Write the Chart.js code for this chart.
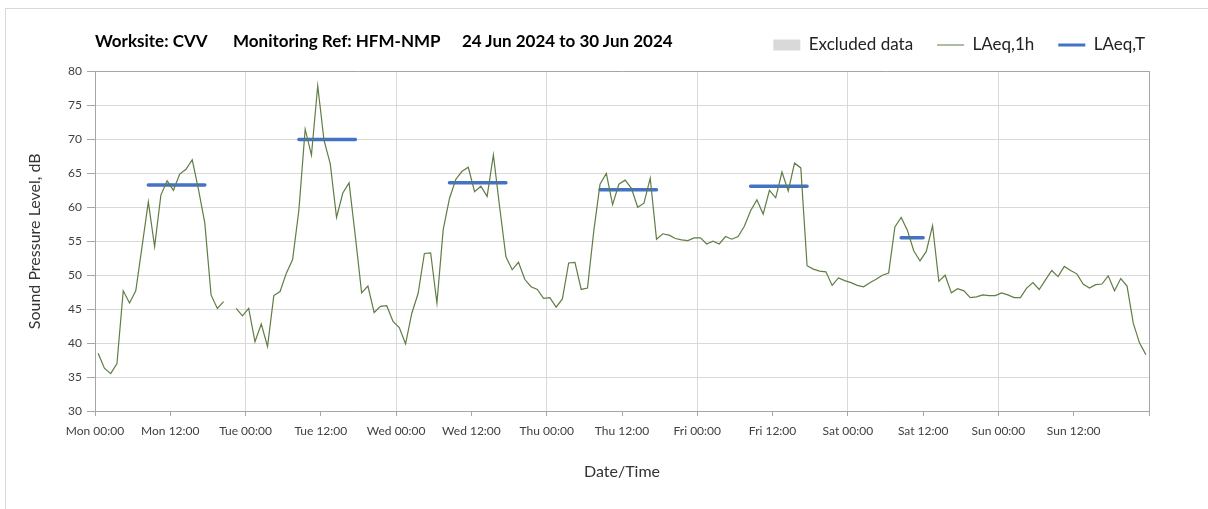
<!DOCTYPE html>
<html>
<head>
<meta charset="utf-8">
<script src="https://cdn.jsdelivr.net/npm/chart.js@4.4.1/dist/chart.umd.min.js"></script>
<style>
  html, body { margin: 0; padding: 0; background: #fff; overflow: hidden; }
  #wrap { position: relative; width: 1208px; height: 509px; }
  #frame { position: absolute; left: 5px; top: 8px; width: 1300px; height: 600px; border: 1px solid #d9d9d9; }
  canvas { position: absolute; left: 0; top: 0; }
  .ttl { position: absolute; top: 32px; font: bold 17px Lato, sans-serif; line-height: 17px; color: #000; white-space: nowrap; }
</style>
</head>
<body>
<div id="wrap">
  <div id="frame"></div>
  <canvas id="myChart" width="1208" height="509"></canvas>
  <div class="ttl" style="left:95px">Worksite: CVV</div>
  <div class="ttl" style="left:233px">Monitoring Ref: HFM-NMP</div>
  <div class="ttl" style="left:462px">24 Jun 2024 to 30 Jun 2024</div>
</div>
<script>
// tick labels
var dayNames = ["Mon", "Tue", "Wed", "Thu", "Fri", "Sat", "Sun"];

// LAeq,1h - one value per hour, Mon 00:00 .. Sun 23:00 (null = no data)
var laeq1h = [
  // Mon
  38.5, 36.3, 35.5, 37.0, 47.7, 45.9, 47.7, 54.2, 60.8, 54.2, 61.8, 63.9,
  62.5, 64.9, 65.6, 67.0, 62.6, 57.7, 47.1, 45.1, 46.1, null, 45.1, 44.0,
  // Tue
  45.1, 40.2, 42.8, 39.5, 47.0, 47.6, 50.3, 52.3, 59.6, 71.5, 67.7, 77.9,
  69.9, 66.4, 58.5, 62.1, 63.6, 55.7, 47.4, 48.4, 44.5, 45.4, 45.5, 43.2,
  // Wed
  42.3, 39.9, 44.4, 47.3, 53.2, 53.3, 45.9, 56.7, 61.3, 64.1, 65.3, 65.9,
  62.3, 63.1, 61.6, 67.7, 60.0, 52.7, 50.8, 51.9, 49.4, 48.3, 47.9, 46.6,
  // Thu
  46.7, 45.3, 46.5, 51.8, 51.9, 47.9, 48.1, 56.5, 63.4, 65.0, 60.4, 63.4,
  64.0, 62.8, 60.0, 60.6, 64.3, 55.3, 56.1, 55.9, 55.4, 55.2, 55.1, 55.5,
  // Fri
  55.5, 54.6, 55.0, 54.6, 55.7, 55.3, 55.7, 57.2, 59.5, 61.1, 59.0, 62.5,
  61.4, 65.2, 62.4, 66.5, 65.8, 51.4, 50.9, 50.6, 50.5, 48.5, 49.6, 49.2,
  // Sat
  48.9, 48.5, 48.3, 48.9, 49.4, 50.0, 50.3, 57.1, 58.5, 56.6, 53.6, 52.1,
  53.5, 57.3, 49.1, 50.0, 47.4, 48.0, 47.7, 46.7, 46.8, 47.1, 47.0, 47.0,
  // Sun
  47.4, 47.1, 46.7, 46.7, 48.1, 48.9, 47.9, 49.3, 50.7, 49.8, 51.3, 50.7,
  50.2, 48.7, 48.1, 48.6, 48.7, 49.9, 47.7, 49.5, 48.4, 42.9, 40.0, 38.3
];

// LAeq,T - assessment periods (hours from Mon 00:00) and their levels
var periodStart = [8.5, 32.5, 56.5, 80.5, 104.5, 128.5];
var periodEnd   = [17.5, 41.5, 65.5, 89.5, 113.5, 132];
var laeqT       = [63.3, 70.0, 63.6, 62.6, 63.1, 55.5];

var hourlyPoints = laeq1h.map(function (v, i) { return { x: i + 0.5, y: v }; });
var periodPoints = [];
laeqT.forEach(function (v, i) {
  periodPoints.push({ x: periodStart[i], y: v }, { x: periodEnd[i], y: v }, { x: periodEnd[i], y: null });
});

var font = "Lato, 'Open Sans', sans-serif";
var axisGrey = '#a6a6a6';

function draw() {
  var ctx = document.getElementById('myChart').getContext('2d');
  var chart = new Chart(ctx, {
    type: 'line',
    data: {
      datasets: [{
        label: 'Excluded data',
        data: [],
        backgroundColor: '#d9d9d9',
        borderColor: '#d9d9d9',
        pointStyle: 'rect',
        pointBorderWidth: 0
      }, {
        label: 'LAeq,1h',
        data: hourlyPoints,
        borderColor: '#5f7d45',
        borderWidth: 1.2,
        pointRadius: 0,
        pointStyle: 'line',
        pointBorderColor: '#5f7d45',
        pointBorderWidth: 1,
        spanGaps: false
      }, {
        label: 'LAeq,T',
        data: periodPoints,
        borderColor: '#4472c4',
        borderWidth: 3.5,
        borderCapStyle: 'round',
        pointRadius: 0,
        pointStyle: 'line',
        pointBorderColor: '#4472c4',
        pointBorderWidth: 3,
        spanGaps: false
      }]
    },
    options: {
      responsive: false,
      devicePixelRatio: 1,
      animation: false,
      layout: { padding: { top: 12.5, right: 39, left: 0, bottom: 0 } },
      plugins: {
        tooltip: { enabled: false },
        legend: {
          position: 'top',
          align: 'end',
          labels: {
            usePointStyle: true,
            pointStyleWidth: 27,
            boxHeight: 11,
            padding: 24,
            color: '#222',
            font: { family: font, size: 17 }
          }
        }
      },
      scales: {
        x: {
          type: 'linear',
          position: 'bottom',
          min: 0,
          max: 168,
          afterFit: function (s) { s.height = 98; },
          ticks: {
            stepSize: 12,
            maxTicksLimit: 20,
            autoSkip: false,
            maxRotation: 0,
            padding: 8,
            color: '#404040',
            font: { family: font, size: 12 },
            callback: function (v) {
              if (v >= 168) return '';
              return dayNames[Math.floor(v / 24)] + (v % 24 ? ' 12:00' : ' 00:00');
            }
          },
          grid: {
            color: function (c) { return c.tick && c.tick.value % 24 === 0 ? '#d9d9d9' : 'rgba(0,0,0,0)'; },
            tickColor: axisGrey,
            tickLength: 5
          },
          border: { color: axisGrey },
          title: {
            display: true,
            text: 'Date/Time',
            color: '#333',
            font: { family: font, size: 16 },
            padding: { top: 4, bottom: 28 }
          }
        },
        xTop: {
          type: 'linear',
          position: 'top',
          min: 0,
          max: 168,
          afterFit: function (s) { s.height = 8; },
          ticks: { display: false },
          grid: { display: false },
          border: { color: axisGrey }
        },
        y: {
          type: 'linear',
          min: 30,
          max: 80,
          afterFit: function (s) { s.width = 95; },
          ticks: {
            stepSize: 5,
            padding: 5,
            color: '#404040',
            font: { family: font, size: 12 }
          },
          grid: {
            color: function (c) { return c.tick && c.tick.value === 80 ? 'rgba(0,0,0,0)' : '#d9d9d9'; },
            tickColor: axisGrey,
            tickLength: 8
          },
          border: { color: axisGrey },
          title: {
            display: true,
            text: 'Sound Pressure Level, dB',
            color: '#333',
            font: { family: font, size: 16 },
            padding: { top: 25, bottom: 0 }
          }
        },
        yRight: {
          type: 'linear',
          position: 'right',
          min: 30,
          max: 80,
          afterFit: function (s) { s.width = 20; },
          ticks: { display: false },
          grid: { display: false },
          border: { color: axisGrey }
        }
      }
    }
  });
}

if (document.fonts && document.fonts.load) {
  document.fonts.load("16px Lato").then(draw, draw);
} else {
  draw();
}
</script>
</body>
</html>
